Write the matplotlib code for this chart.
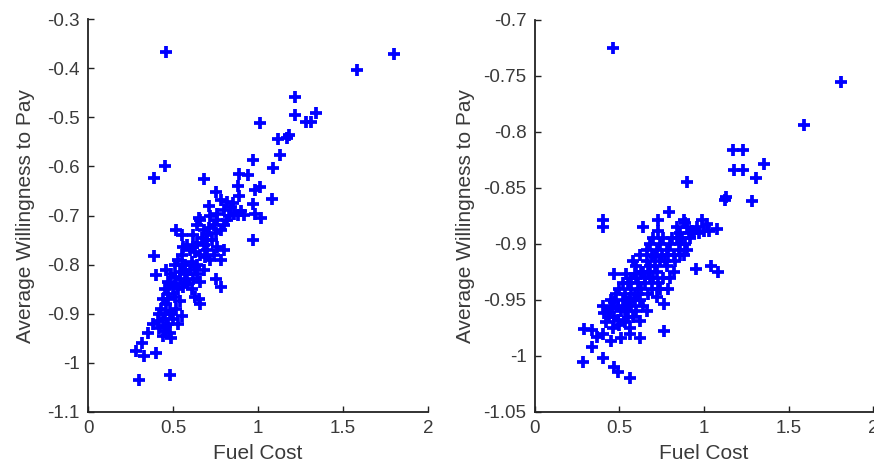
import matplotlib
matplotlib.use("Agg")
import matplotlib.pyplot as plt

plt.rcParams['font.family'] = ['Liberation Sans', 'DejaVu Sans']

# left panel: (fuel cost, average willingness to pay)
left_points = [
    (0.457, -0.367), (1.58, -0.404), (1.80, -0.371), (1.22, -0.459), (1.22, -0.495),
    (1.34, -0.492), (1.28, -0.51), (1.31, -0.51), (1.01, -0.511), (1.18, -0.537),
    (1.17, -0.542), (1.12, -0.545), (1.13, -0.576), (0.97, -0.586), (1.09, -0.603),
    (0.45, -0.599), (0.39, -0.624), (0.68, -0.626), (0.89, -0.616), (0.94, -0.617),
    (0.75, -0.652), (1.01, -0.641), (0.98, -0.649), (1.08, -0.666), (0.71, -0.68),
    (0.88, -0.64), (0.89, -0.66), (0.97, -0.676), (0.98, -0.696), (1.02, -0.706),
    (0.97, -0.75),
    (0.78, -0.669), (0.82, -0.672), (0.84, -0.682), (0.86, -0.696), (0.88, -0.699),
    (0.92, -0.699), (0.76, -0.696), (0.80, -0.689), (0.85, -0.675), (0.90, -0.69),
    (0.83, -0.70),
    (0.64, -0.72), (0.66, -0.71), (0.68, -0.73), (0.70, -0.74), (0.72, -0.70),
    (0.74, -0.72), (0.76, -0.71), (0.78, -0.73), (0.80, -0.72), (0.70, -0.75),
    (0.73, -0.75), (0.62, -0.74), (0.52, -0.73), (0.55, -0.74), (0.67, -0.745),
    (0.75, -0.735), (0.82, -0.71), (0.71, -0.725), (0.65, -0.705),
    (0.58, -0.76), (0.60, -0.77), (0.62, -0.765), (0.64, -0.755), (0.66, -0.78),
    (0.68, -0.76), (0.70, -0.77), (0.72, -0.79), (0.74, -0.78), (0.76, -0.765),
    (0.78, -0.79), (0.55, -0.78), (0.53, -0.79), (0.57, -0.80), (0.61, -0.795),
    (0.64, -0.80), (0.39, -0.783), (0.80, -0.77), (0.69, -0.785), (0.63, -0.775),
    (0.56, -0.765),
    (0.46, -0.81), (0.49, -0.82), (0.51, -0.80), (0.52, -0.84), (0.54, -0.83),
    (0.56, -0.845), (0.58, -0.82), (0.60, -0.81), (0.62, -0.83), (0.64, -0.82),
    (0.66, -0.835), (0.68, -0.81), (0.50, -0.845), (0.48, -0.84), (0.53, -0.85),
    (0.57, -0.81), (0.75, -0.83), (0.78, -0.845), (0.40, -0.822), (0.45, -0.85),
    (0.55, -0.80), (0.59, -0.84), (0.51, -0.825), (0.47, -0.835), (0.61, -0.85),
    (0.63, -0.805), (0.54, -0.815), (0.57, -0.835),
    (0.46, -0.88), (0.45, -0.90), (0.43, -0.89), (0.47, -0.87), (0.49, -0.90),
    (0.52, -0.89), (0.54, -0.875), (0.55, -0.905), (0.53, -0.92), (0.65, -0.87),
    (0.66, -0.88), (0.63, -0.865), (0.44, -0.91), (0.48, -0.895), (0.50, -0.91),
    (0.44, -0.87), (0.47, -0.86), (0.51, -0.865), (0.42, -0.90),
    (0.42, -0.93), (0.44, -0.945), (0.46, -0.925), (0.48, -0.94), (0.49, -0.95),
    (0.38, -0.92), (0.35, -0.94), (0.47, -0.92), (0.45, -0.935), (0.41, -0.915),
    (0.28, -0.975), (0.33, -0.985), (0.40, -0.98), (0.30, -1.035), (0.48, -1.025),
    (0.32, -0.96),
]

# right panel
right_points = [
    (0.46, -0.725), (1.81, -0.755), (1.59, -0.794), (1.17, -0.816), (1.23, -0.816),
    (1.18, -0.834), (1.23, -0.834), (1.355, -0.829), (1.31, -0.841), (0.90, -0.845),
    (1.125, -0.861), (1.13, -0.858), (1.285, -0.862), (0.795, -0.871), (0.40, -0.879),
    (0.40, -0.885), (0.64, -0.885), (0.73, -0.879), (0.73, -0.888), (0.88, -0.879),
    (0.89, -0.881), (0.99, -0.879), (1.02, -0.882), (1.00, -0.888), (1.075, -0.887),
    (1.03, -0.888), (0.95, -0.922), (1.04, -0.92), (1.08, -0.925), (0.765, -0.978),
    (0.285, -1.005), (0.40, -1.002), (0.47, -1.01), (0.49, -1.014), (0.565, -1.02),
    (0.29, -0.976), (0.335, -0.977), (0.37, -0.983), (0.34, -0.992), (0.40, -0.98),
    (0.45, -0.987), (0.51, -0.984), (0.56, -0.98), (0.62, -0.984), (0.62, -0.969),
    (0.66, -0.96), (0.72, -0.947), (0.765, -0.954), (0.47, -0.927), (0.54, -0.927),
    (0.59, -0.927),
    (0.40, -0.955), (0.43, -0.96), (0.45, -0.95), (0.47, -0.965), (0.49, -0.955),
    (0.51, -0.96), (0.53, -0.97), (0.55, -0.965), (0.57, -0.955), (0.46, -0.975),
    (0.50, -0.972), (0.42, -0.97), (0.44, -0.965), (0.52, -0.95), (0.56, -0.975),
    (0.48, -0.945), (0.60, -0.96),
    (0.50, -0.94), (0.53, -0.945), (0.55, -0.935), (0.57, -0.94), (0.59, -0.945),
    (0.61, -0.935), (0.63, -0.94), (0.65, -0.93), (0.56, -0.948), (0.62, -0.95),
    (0.52, -0.935), (0.67, -0.945), (0.60, -0.93),
    (0.58, -0.915), (0.60, -0.92), (0.62, -0.91), (0.64, -0.925), (0.66, -0.915),
    (0.68, -0.92), (0.70, -0.93), (0.72, -0.925), (0.74, -0.915), (0.76, -0.93),
    (0.78, -0.92), (0.80, -0.93), (0.82, -0.925), (0.69, -0.91), (0.65, -0.935),
    (0.66, -0.905), (0.68, -0.90), (0.70, -0.895), (0.72, -0.905), (0.74, -0.90),
    (0.76, -0.895), (0.78, -0.905), (0.80, -0.90), (0.82, -0.91), (0.84, -0.895),
    (0.86, -0.90), (0.88, -0.91), (0.90, -0.905), (0.92, -0.895), (0.94, -0.89),
    (0.75, -0.91), (0.71, -0.912),
    (0.84, -0.885), (0.86, -0.89), (0.90, -0.885), (0.93, -0.888), (0.96, -0.885),
    (0.97, -0.89),
    (0.45, -0.958), (0.47, -0.952), (0.49, -0.968), (0.53, -0.958), (0.55, -0.952),
    (0.58, -0.965), (0.59, -0.95), (0.41, -0.962), (0.63, -0.925), (0.67, -0.925),
    (0.71, -0.92), (0.73, -0.935), (0.77, -0.915), (0.79, -0.91), (0.81, -0.895),
    (0.85, -0.905), (0.87, -0.895), (0.89, -0.90), (0.91, -0.89), (0.61, -0.945),
    (0.64, -0.955), (0.54, -0.96), (0.57, -0.93), (0.69, -0.94), (0.74, -0.94),
    (0.68, -0.93), (0.79, -0.94), (0.83, -0.915), (0.86, -0.91),
]

left_cost = [p[0] for p in left_points]
left_wtp = [p[1] for p in left_points]
right_cost = [p[0] for p in right_points]
right_wtp = [p[1] for p in right_points]

x_ticks = [0, 0.5, 1, 1.5, 2]
left_yticks = [-1.1, -1, -0.9, -0.8, -0.7, -0.6, -0.5, -0.4, -0.3]
right_yticks = [-1.05, -1, -0.95, -0.9, -0.85, -0.8, -0.75, -0.7]

txt = '#3a3a3a'

fig = plt.figure(figsize=(8.74, 4.65), dpi=100)
ax1 = fig.add_axes([0.1007, 0.114, 0.389, 0.845])
ax2 = fig.add_axes([0.612, 0.114, 0.387, 0.843])


def style(ax, yticks, ylim):
    ax.set_xlim(0, 2)
    ax.set_ylim(*ylim)
    ax.set_xticks(x_ticks)
    ax.set_xticklabels(['0', '0.5', '1', '1.5', '2'])
    ax.set_yticks(yticks)
    ax.set_yticklabels(['%g' % v for v in yticks])
    for s in ['top', 'right']:
        ax.spines[s].set_visible(False)
    for s in ['left', 'bottom']:
        ax.spines[s].set_linewidth(1.3)
        ax.spines[s].set_color('#222222')
    ax.tick_params(direction='in', length=4, width=1, colors='#222222',
                   labelcolor=txt, labelsize=13.5, pad=6)
    ax.set_xlabel('Fuel Cost', fontsize=15, color=txt, labelpad=5)
    ax.set_ylabel('Average Willingness to Pay', fontsize=15, color=txt, labelpad=9)


ax1.plot(left_cost, left_wtp, '+', color='#0000ff', ms=8, mew=2.7, clip_on=False)
style(ax1, left_yticks, (-1.1, -0.3))

ax2.plot(right_cost, right_wtp, '+', color='#0000ff', ms=8, mew=2.7, clip_on=False)
style(ax2, right_yticks, (-1.05, -0.7))
ax2.yaxis.labelpad = 6

fig.savefig('out.png', dpi=100)
